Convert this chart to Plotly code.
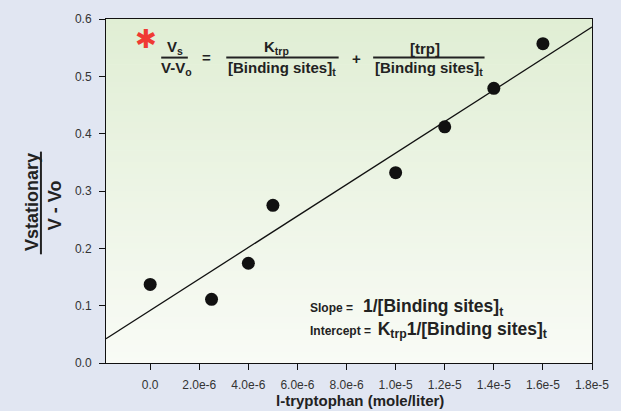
import numpy as np
import plotly.graph_objects as go

# ---------------- data ----------------
conc = [0.0, 2.5e-6, 4.0e-6, 5.0e-6, 1.0e-5, 1.2e-5, 1.4e-5, 1.6e-5]
ratio = [0.137, 0.111, 0.174, 0.275, 0.332, 0.412, 0.479, 0.557]

x_tick_vals = [0.0, 2e-6, 4e-6, 6e-6, 8e-6, 1.0e-5, 1.2e-5, 1.4e-5, 1.6e-5, 1.8e-5]
x_tick_text = ["0.0", "2.0e-6", "4.0e-6", "6.0e-6", "8.0e-6",
               "1.0e-5", "1.2e-5", "1.4e-5", "1.6e-5", "1.8e-5"]
y_tick_vals = [0.0, 0.1, 0.2, 0.3, 0.4, 0.5, 0.6]
y_tick_text = ["0.0", "0.1", "0.2", "0.3", "0.4", "0.5", "0.6"]

x_range = [-1.8e-6, 1.8e-5]
y_range = [0.0, 0.6]

# linear fit
slope, intercept = np.polyfit(conc, ratio, 1)
fit_x = np.array(x_range)
fit_y = slope * fit_x + intercept

# ---------------- layout helpers ----------------
W, H = 621, 411
L, R, T, B = 106, 22, 18, 48
PW, PH = W - L - R, H - T - B
FONT = "Liberation Sans, Arial, Helvetica, sans-serif"


def px(xp):
    return (xp - L) / PW


def py(yp):
    return (H - B - yp) / PH


fig = go.Figure()

fig.add_trace(go.Scatter(
    x=fit_x, y=fit_y, mode="lines",
    line=dict(color="#111111", width=1.3),
    showlegend=False, hoverinfo="skip"))

fig.add_trace(go.Scatter(
    x=conc, y=ratio, mode="markers",
    marker=dict(size=13, color="#111111"),
    showlegend=False))

# gradient background of plot area
shapes = []
top_c = np.array([224, 238, 212])
bot_c = np.array([249, 251, 246])
N = 60
for i in range(N):
    f = (i + 0.5) / N
    c = bot_c + (top_c - bot_c) * f
    shapes.append(dict(
        type="rect", xref="x domain", yref="y domain",
        x0=0, x1=1, y0=i / N, y1=(i + 1) / N + 0.002,
        fillcolor="rgb(%d,%d,%d)" % tuple(np.round(c).astype(int)),
        line=dict(width=0), layer="below"))

# fraction bars
for x0, x1 in [(162, 189), (228, 342), (377, 490)]:
    shapes.append(dict(type="line", xref="paper", yref="paper",
                       x0=px(x0), x1=px(x1), y0=py(56.7), y1=py(56.7),
                       line=dict(color="#222222", width=2)))
# y-title fraction bar
shapes.append(dict(type="line", xref="paper", yref="paper",
                   x0=px(40), x1=px(40), y0=py(151), y1=py(254),
                   line=dict(color="#222222", width=2)))

annotations = []


def ann(text, xp, yp, size, xanchor="center", yanchor="middle",
        color="#222222", angle=0, family=FONT, align="center"):
    annotations.append(dict(
        text=text, x=px(xp), y=py(yp), xref="paper", yref="paper",
        xanchor=xanchor, yanchor=yanchor, showarrow=False, align=align,
        textangle=angle, font=dict(size=size, color=color, family=family)))


NB = "\u00a0"
# equation
ann("✱", 146.5, 38, 26, color="#f03a33", family="DejaVu Sans")
ann("<b>V<sub>s</sub></b>", 176, 58.0, 15, yanchor="bottom")
ann("<b>V-V<sub>o</sub></b>", 178, 56.5, 15, yanchor="top")
ann("<b>=</b>", 208, 57, 15)
ann("<b>K<sub>trp</sub></b>", 279, 58.0, 15, yanchor="bottom")
ann("<b>[Binding sites]<sub>t</sub></b>", 285, 56.5, 15, yanchor="top")
ann("<b>+</b>", 360, 58, 15)
ann("<b>[trp]</b>", 430, 58.0, 15, yanchor="bottom")
ann("<b>[Binding sites]<sub>t</sub></b>", 434, 56.5, 15, yanchor="top")

# slope / intercept (one block, two lines)
ann("<b><span style='font-size:12px'>Slope =" + NB * 3 + "</span>1/[Binding sites]<sub>t</sub></b>"
    "<br><b><span style='font-size:12px'>Intercept =" + NB * 2 + "</span>K<sub>trp</sub>1/[Binding sites]<sub>t</sub></b>",
    311, 318, 17.5, xanchor="left", align="left")

# axis titles
ann("<b>l-tryptophan (mole/liter)</b>", 363.5, 401, 15)
ann("<b>Vstationary</b>", 31.5, 202, 18, angle=-90)
ann("<b>V - Vo</b>", 55, 205, 18, angle=-90)

axis_common = dict(
    showgrid=False, zeroline=False, showline=True, linecolor="#111111",
    linewidth=1, mirror=True, ticks="outside", ticklen=6, tickwidth=1,
    tickcolor="#111111", tickfont=dict(size=12, color="#333333", family=FONT),
    ticklabelstandoff=5)

fig.update_layout(
    width=W, height=H,
    margin=dict(l=L, r=R, t=T, b=B),
    paper_bgcolor="#e1e6f2",
    plot_bgcolor="#f9fbf6",
    shapes=shapes,
    annotations=annotations,
    xaxis=dict(range=x_range, tickvals=x_tick_vals, ticktext=x_tick_text,
               **axis_common),
    yaxis=dict(range=y_range, tickvals=y_tick_vals, ticktext=y_tick_text,
               **axis_common),
    font=dict(family=FONT),
)

fig.write_html("out.html")
